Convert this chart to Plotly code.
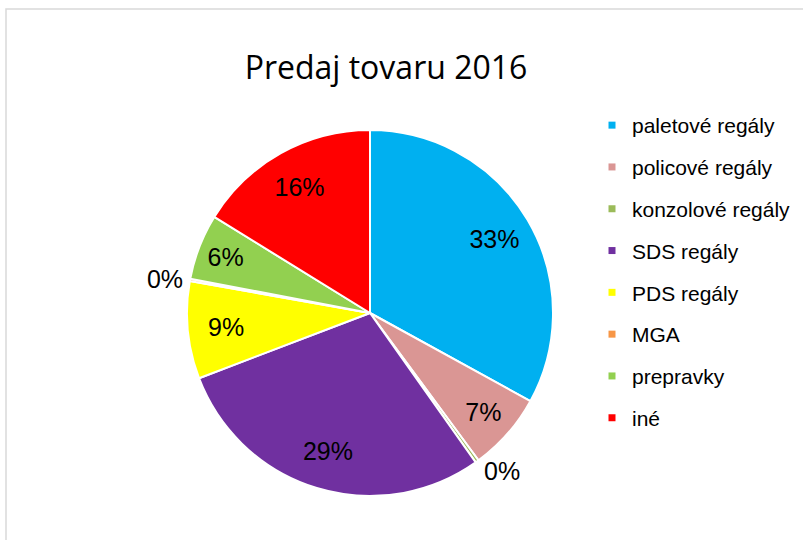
import plotly.graph_objects as go

categories = ["paletové regály", "policové regály", "konzolové regály", "SDS regály",
              "PDS regály", "MGA", "prepravky", "iné"]
values = [33.0, 6.9, 0.3, 29.0, 8.6, 0.2, 5.8, 16.2]
colors = ["#00B0F0", "#DA9694", "#9BBB59", "#7030A0", "#FFFF00", "#F79646", "#92D050", "#FF0000"]
text_positions = ["inside", "inside", "outside", "inside", "inside", "outside", "inside", "inside"]

W, H = 803, 540
pie_domain = dict(x=[187 / W, 553 / W], y=[1 - 496 / H, 1 - 130 / H])

fig = go.Figure()

# coloured slices
fig.add_trace(go.Pie(
    labels=categories, values=values, sort=False, direction="clockwise", rotation=0,
    marker=dict(colors=colors, line=dict(color="white", width=2)),
    textinfo="none", domain=pie_domain, showlegend=False,
    hoverinfo="label+percent",
))

# percentage labels (transparent ring so labels sit toward the outer edge)
fig.add_trace(go.Pie(
    labels=categories, values=values, sort=False, direction="clockwise", rotation=0,
    hole=0.58,
    marker=dict(colors=["rgba(0,0,0,0)"] * len(categories), line=dict(width=0)),
    texttemplate="%{percent:.0%}",
    textposition=text_positions,
    insidetextorientation="horizontal",
    textfont=dict(family="Liberation Sans, Arial", size=25, color="black"),
    domain=pie_domain, showlegend=False, hoverinfo="skip",
))

# legend entries
for name, col in zip(categories, colors):
    fig.add_trace(go.Scatter(
        x=[None], y=[None], mode="markers", name=name, legendgroup=name,
        marker=dict(symbol="square", size=7, color=col),
    ))

fig.update_layout(
    width=W, height=H,
    margin=dict(l=0, r=0, t=0, b=0),
    paper_bgcolor="white", plot_bgcolor="white",
    xaxis=dict(visible=False), yaxis=dict(visible=False),
    title=dict(text="Predaj tovaru 2016", x=386 / W, xanchor="center",
               y=1 - 68 / H, yanchor="middle",
               font=dict(family="Open Sans", size=32, color="black")),
    legend=dict(x=592 / W, y=1 - 105 / H, xanchor="left", yanchor="top",
                traceorder="grouped", tracegroupgap=11.5,
                font=dict(family="Liberation Sans, Arial", size=21, color="black"),
                bgcolor="rgba(0,0,0,0)"),
    shapes=[dict(type="rect", xref="paper", yref="paper",
                 x0=6 / W, x1=1.02, y0=-0.02, y1=1 - 9 / H,
                 line=dict(color="#D9D9D9", width=1.5))],
)

fig.write_html("out.html")
